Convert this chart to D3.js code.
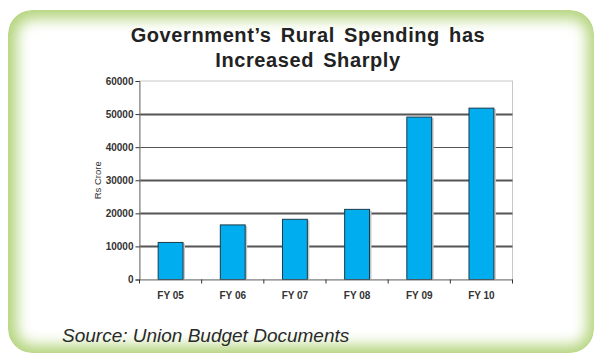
<!DOCTYPE html>
<html>
<head>
<meta charset="utf-8">
<script src="https://cdn.jsdelivr.net/npm/d3@7"></script>
<style>
  body { margin: 0; background: #fff; }
  svg { display: block; font-family: "Liberation Sans", Arial, sans-serif; }
</style>
</head>
<body>
<div id="chart"></div>
<script>
const years = ["FY 05", "FY 06", "FY 07", "FY 08", "FY 09", "FY 10"];
const spending = [11200, 16500, 18200, 21200, 49100, 51800];
const yTicks = [0, 10000, 20000, 30000, 40000, 50000, 60000];
const titleLines = ["Government\u2019s Rural Spending has", "Increased Sharply"];

const W = 597, H = 357;
const svg = d3.select("#chart").append("svg").attr("width", W).attr("height", H);
const defs = svg.append("defs");

// green glowing panel
defs.append("filter").attr("id", "blur").attr("x", "-10%").attr("y", "-10%").attr("width", "120%").attr("height", "120%")
  .append("feGaussianBlur").attr("stdDeviation", 7);
defs.append("clipPath").attr("id", "panelClip")
  .append("rect").attr("x", 8).attr("y", 10).attr("width", 586).attr("height", 343).attr("rx", 24);

const panel = svg.append("g").attr("clip-path", "url(#panelClip)");
panel.append("rect").attr("x", 8).attr("y", 10).attr("width", 586).attr("height", 343).attr("rx", 24)
  .attr("fill", "#b5d57f");
panel.append("rect").attr("x", 17).attr("y", 19).attr("width", 570).attr("height", 326).attr("rx", 16)
  .attr("fill", "#fff").attr("filter", "url(#blur)");

// title
svg.append("g").selectAll("text").data(titleLines).join("text")
  .attr("x", 308).attr("y", (d, i) => 42 + i * 24.5)
  .attr("text-anchor", "middle")
  .attr("font-size", 20).attr("font-weight", "bold").attr("fill", "#222")
  .attr("letter-spacing", 0.6).attr("word-spacing", 3)
  .text(d => d);

const m = { left: 139.5, right: 512.5, top: 81, bottom: 279.5 };

const x = d3.scaleBand().domain(years).range([m.left, m.right]).paddingInner(0.6).paddingOuter(0.3);
const y = d3.scaleLinear().domain([0, 60000]).range([m.bottom, m.top]);

const g = svg.append("g");

// plot frame (light)
g.append("rect").attr("x", m.left).attr("y", m.top).attr("width", m.right - m.left).attr("height", m.bottom - m.top)
  .attr("fill", "#fff").attr("stroke", "#c8c8c8").attr("stroke-width", 1);

// gridlines
g.append("g").selectAll("line").data(yTicks.filter(v => v > 0 && v < 60000)).join("line")
  .attr("x1", m.left).attr("x2", m.right)
  .attr("y1", d => Math.round(y(d)) + 0.5).attr("y2", d => Math.round(y(d)) + 0.5)
  .attr("stroke", "#555").attr("stroke-width", d => d === 40000 ? 1.2 : 1.8);

// bar shadows
g.append("g").selectAll("rect").data(spending).join("rect")
  .attr("x", (d, i) => x(years[i]) + 2).attr("y", d => y(d) + 1)
  .attr("width", x.bandwidth()).attr("height", d => m.bottom - y(d) - 1)
  .attr("fill", "#c9c9c9");

// bars
g.append("g").selectAll("rect").data(spending).join("rect")
  .attr("x", (d, i) => x(years[i])).attr("y", d => y(d))
  .attr("width", x.bandwidth()).attr("height", d => m.bottom - y(d))
  .attr("fill", "#00adef").attr("stroke", "#1c3a4a").attr("stroke-width", 1);

// y axis
const yAxis = g.append("g").attr("transform", `translate(${m.left},0)`)
  .call(d3.axisLeft(y).tickValues(yTicks).tickSize(4).tickPadding(2).tickFormat(d3.format("d")));
yAxis.select(".domain").attr("stroke", "#777");
yAxis.selectAll(".tick line").attr("stroke", "#333");
yAxis.selectAll(".tick text").attr("font-size", 10).attr("font-weight", "bold").attr("fill", "#333")
  .attr("font-family", "Liberation Sans, Arial, sans-serif");

// x axis
const xAxis = g.append("g").attr("transform", `translate(0,${m.bottom})`)
  .call(d3.axisBottom(x).tickSize(0).tickPadding(12));
xAxis.select(".domain").attr("stroke", "#777");
xAxis.selectAll(".tick text").attr("font-size", 10).attr("font-weight", "bold").attr("fill", "#333")
  .attr("font-family", "Liberation Sans, Arial, sans-serif");

// x tick marks at category boundaries
const step = (m.right - m.left) / years.length;
g.append("g").selectAll("line").data(d3.range(years.length + 1)).join("line")
  .attr("x1", i => m.left + i * step).attr("x2", i => m.left + i * step)
  .attr("y1", m.bottom).attr("y2", m.bottom + 4)
  .attr("stroke", "#333");

// y axis label
svg.append("text")
  .attr("transform", `translate(98,${(m.top + m.bottom) / 2}) rotate(-90)`)
  .attr("text-anchor", "middle").attr("dominant-baseline", "middle")
  .attr("font-size", 9.5).attr("fill", "#333")
  .text("Rs Crore");

// source
svg.append("text")
  .attr("x", 62).attr("y", 342)
  .attr("font-size", 19).attr("font-style", "italic").attr("fill", "#2a2a2a")
  .text("Source: Union Budget Documents");
</script>
</body>
</html>
